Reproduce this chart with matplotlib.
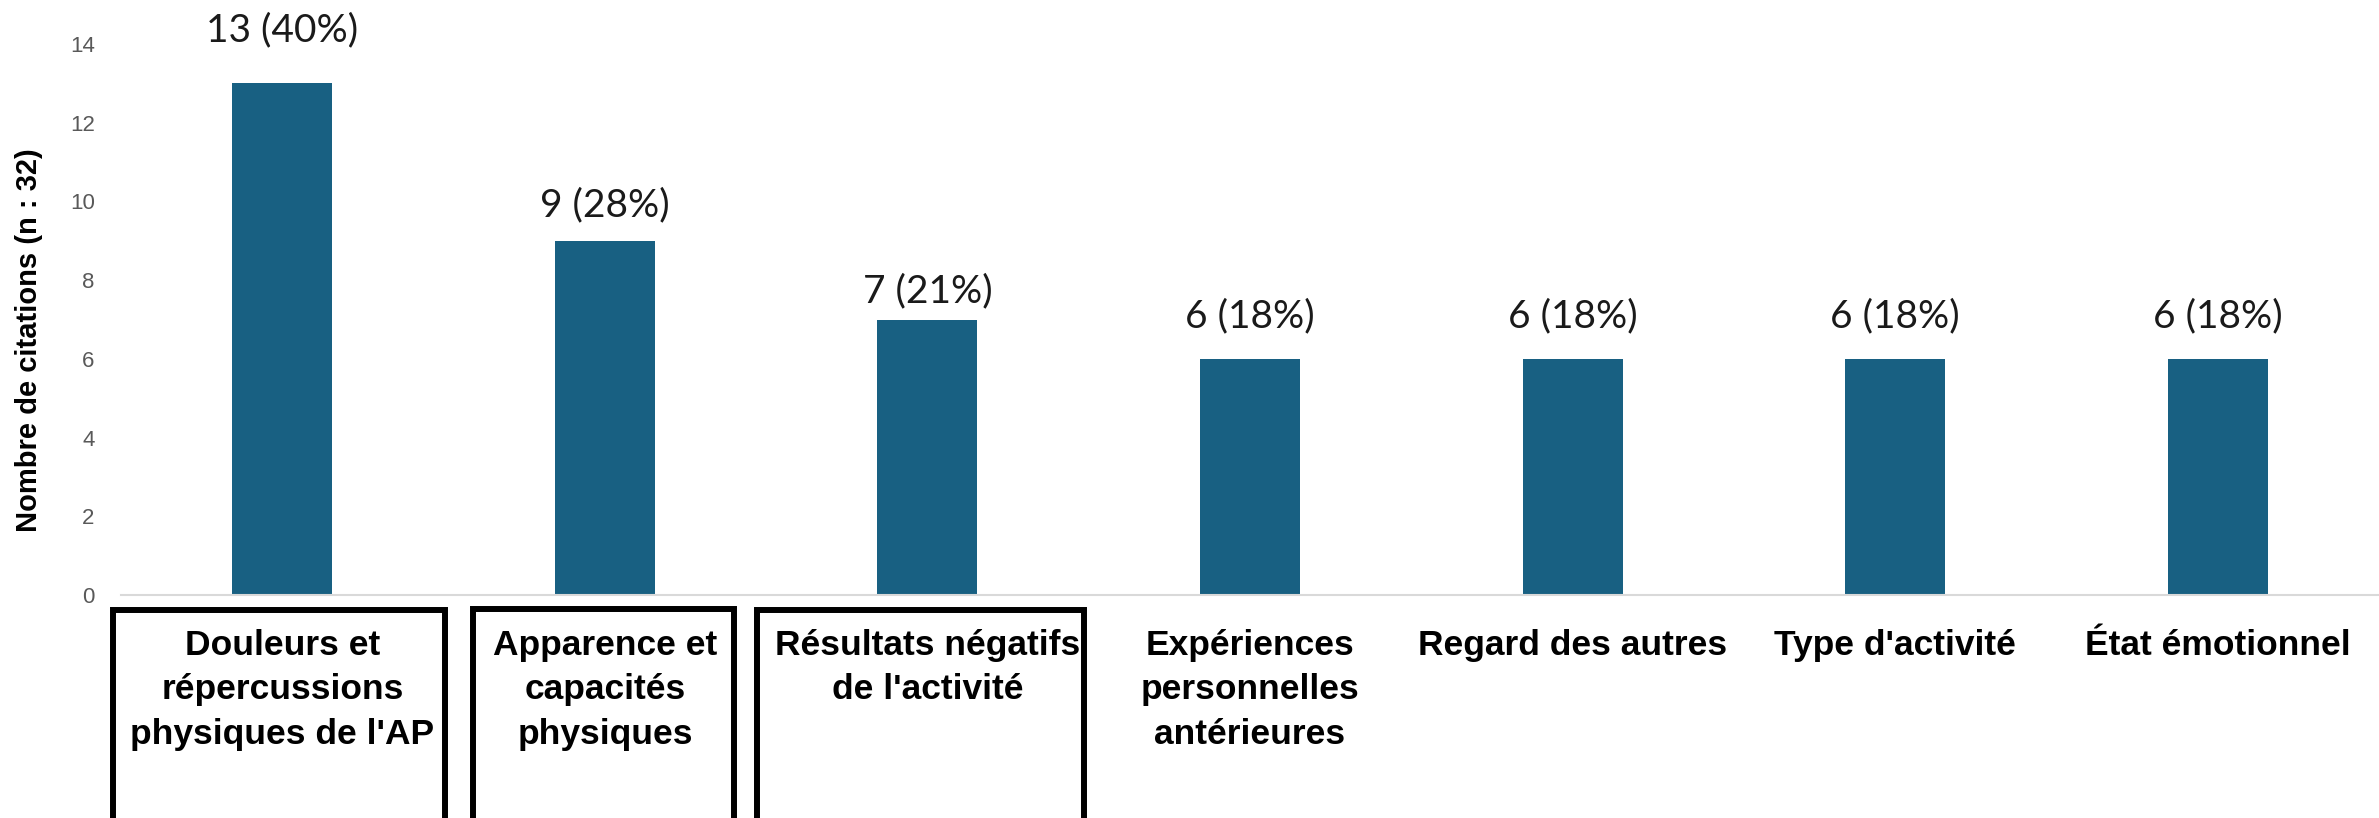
import matplotlib
matplotlib.use("Agg")
import matplotlib.pyplot as plt
from matplotlib.patches import Rectangle
import matplotlib.transforms as mtransforms

categories = ["Douleurs et\nrépercussions\nphysiques de l'AP",
              "Apparence et\ncapacités\nphysiques",
              "Résultats négatifs\nde l'activité",
              "Expériences\npersonnelles\nantérieures",
              "Regard des autres",
              "Type d'activité",
              "État émotionnel"]
values = [13, 9, 7, 6, 6, 6, 6]
percents = [40, 28, 21, 18, 18, 18, 18]
yticks = [0, 2, 4, 6, 8, 10, 12, 14]

DPI = 100
fig = plt.figure(figsize=(23.79, 8.18), dpi=DPI)
ax = fig.add_axes([0.0509, 0.2726, 0.9491, 0.6736])

bar_color = "#186082"
x = list(range(len(categories)))
ax.bar(x, values, width=0.31, color=bar_color, zorder=2)

ax.set_xlim(-0.5, len(categories) - 0.5)
ax.set_ylim(0, 14)
ax.set_yticks(yticks)
ax.set_yticklabels([str(t) for t in yticks], color="#595959", fontsize=16,
                   family=["Liberation Sans", "DejaVu Sans"])
ax.tick_params(axis='y', length=0, pad=19)
ax.tick_params(axis='x', length=0)
ax.set_xticks(x)
ax.set_xticklabels([])

for s in ["top", "right", "left"]:
    ax.spines[s].set_visible(False)
ax.spines["bottom"].set_color("#d9d9d9")
ax.spines["bottom"].set_linewidth(1.5)

bold_font = ["Liberation Sans", "DejaVu Sans"]
label_font = ["Lato", "DejaVu Sans"]

# value labels
offsets_px = [53, 35, 28, 43, 43, 43, 43]
for xi, v, p, off in zip(x, values, percents, offsets_px):
    ax.annotate(f"{v} ({p}%)", xy=(xi, v), xytext=(0, off * 72 / DPI),
                textcoords="offset points", ha="center", va="center",
                fontsize=28, color="#1a1a1a", family=label_font)

# category labels
trans = mtransforms.blended_transform_factory(ax.transData, ax.transAxes)
for xi, c in zip(x, categories):
    ax.text(xi, -0.061, c, transform=trans, ha="center", va="top",
            fontsize=25.5, fontweight="bold", family=bold_font, linespacing=1.45)

# boxes around first three categories
box_spans = [(-0.524, 0.503), (0.59, 1.40), (1.47, 2.485)]
box_tops = [-0.028, -0.025, -0.028]
for (x0, x1), yt in zip(box_spans, box_tops):
    r = Rectangle((x0, -1.0), x1 - x0, yt + 1.0, transform=trans,
                  fill=False, edgecolor="black", linewidth=4.3, clip_on=False)
    ax.add_patch(r)

fig.text(0.012, 0.584, "Nombre de citations (n : 32)", rotation=90,
         ha="center", va="center", fontsize=21, fontweight="bold", family=bold_font)

fig.savefig("out.png", dpi=DPI)
